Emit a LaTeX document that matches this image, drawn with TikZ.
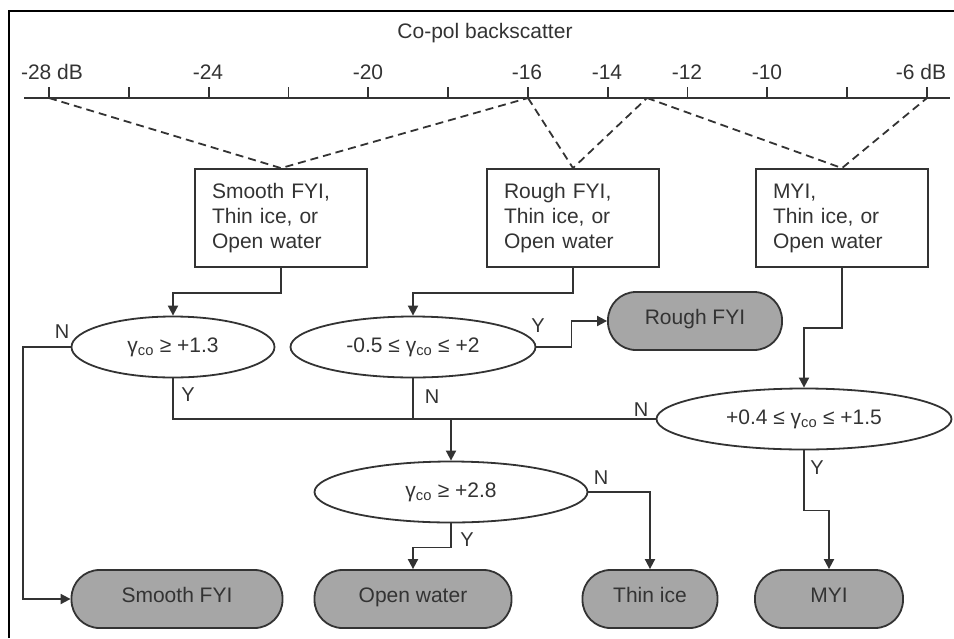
\documentclass[tikz,border=0pt]{standalone}
\usepackage{fontspec}
\setmainfont{Liberation Sans}
\usetikzlibrary{shapes.geometric,arrows.meta}

\definecolor{linegray}{HTML}{333333}
\definecolor{termgray}{HTML}{A6A6A6}

\tikzset{
  every node/.style={font=\fontsize{21}{25}\selectfont, text=linegray},
  classbox/.style={draw=linegray, line width=1.8pt, minimum width=172pt, minimum height=98pt,
    text width=138pt, align=left, inner sep=0pt},
  test/.style={ellipse, draw=linegray, line width=1.8pt, minimum height=61pt, inner sep=0pt},
  term/.style={rectangle, rounded corners=28pt, draw=linegray, line width=1.8pt, fill=termgray,
    minimum height=58pt, inner sep=0pt, text height=0.72em, text depth=0pt},
  conn/.style={draw=linegray, line width=1.8pt},
  arr/.style={conn, -{Triangle[length=10pt,width=10pt]}},
  guide/.style={draw=linegray, line width=1.8pt, dash pattern=on 8pt off 5pt},
  yn/.style={font=\fontsize{20}{22}\selectfont}
}

\newcommand{\gco}{γ\textsubscript{co}}

\begin{document}
\begin{tikzpicture}[x=1pt,y=-1pt]
\useasboundingbox (0,0) rectangle (954,638);

% frame
\draw[line width=2pt] (9,638) -- (9,11) -- (954,11);

% backscatter axis
\node (title) at (485,33) {Co-pol backscatter};
\draw[conn] (24,98) -- (950,98);
\foreach \i in {0,...,11}
  \draw[conn] ({49+\i*79.8},87) -- ({49+\i*79.8},98);
\node (t28) at (52,72) {-28 dB};
\node (t24) at (208,72) {-24};
\node (t20) at (368,72) {-20};
\node (t16) at (527,72) {-16};
\node (t14) at (607,72) {-14};
\node (t12) at (687,72) {-12};
\node (t10) at (767,72) {-10};
\node (t6) at (921,72) {-6 dB};

\coordinate (d28) at (49,98);
\coordinate (d16) at (528,98);
\coordinate (d13) at (647,98);
\coordinate (d6) at (927,98);

% class groups
\node[classbox] (smoothset) at (281,218) {Smooth FYI,\\Thin ice, or\\Open water};
\node[classbox] (roughset) at (573,218) {Rough FYI,\\Thin ice, or\\Open water};
\node[classbox] (myiset) at (842,218) {MYI,\\Thin ice, or\\Open water};

\draw[guide] (d28) -- (smoothset.north) -- (d16);
\draw[guide] (d16) -- (roughset.north) -- (d13);
\draw[guide] (d13) -- (myiset.north) -- (d6);

% tests
\node[test, minimum width=203pt] (c13) at (173,347) {\gco\ ≥ +1.3};
\node[test, minimum width=245pt] (c05) at (413,347) {-0.5 ≤ \gco\ ≤ +2};
\node[test, minimum width=295pt] (c04) at (804,419) {+0.4 ≤ \gco\ ≤ +1.5};
\node[test, minimum width=273pt] (c28) at (451,492) {\gco\ ≥ +2.8};

% outcomes
\node[term, minimum width=174pt] (rough) at (695,321) {Rough FYI};
\node[term, minimum width=211pt] (smooth) at (177,599) {Smooth FYI};
\node[term, minimum width=197pt] (water) at (413,599) {Open water};
\node[term, minimum width=135pt] (thin) at (650,599) {Thin ice};
\node[term, minimum width=148pt] (myi) at (829,599) {MYI};

% connectors
\draw[arr] (smoothset.south) -- ++(0,25) -| (c13.north);
\draw[arr] (roughset.south) -- ++(0,25) -| (c05.north);
\draw[arr] (myiset.south) -- ++(0,60) -| (c04.north);
\draw[arr] (c05.east) -- ++(35,0) |- (rough.west);
\draw[arr] (c13.west) -- ++(-48,0) |- (smooth.west);
\draw[conn] (c13.south) |- (c04.west);
\draw[conn] (c05.south) -- (c05.south |- c04.west);
\draw[arr] (c28.north |- c04.west) -- (c28.north);
\draw[arr] (c28.south) -- ++(0,24) -| (water.north);
\draw[arr] (c28.east) -| (thin.north);
\draw[arr] (c04.south) -- ++(0,60) -| (myi.north);

% Y / N labels
\node[yn] (n1) at (62,332) {N};
\node[yn] (y1) at (188,395) {Y};
\node[yn] (n2) at (432,397) {N};
\node[yn] (y2) at (538,326) {Y};
\node[yn] (n3) at (641,410) {N};
\node[yn] (y3) at (467,540) {Y};
\node[yn] (n4) at (601,478) {N};
\node[yn] (y4) at (817,468) {Y};

\end{tikzpicture}
\end{document}
